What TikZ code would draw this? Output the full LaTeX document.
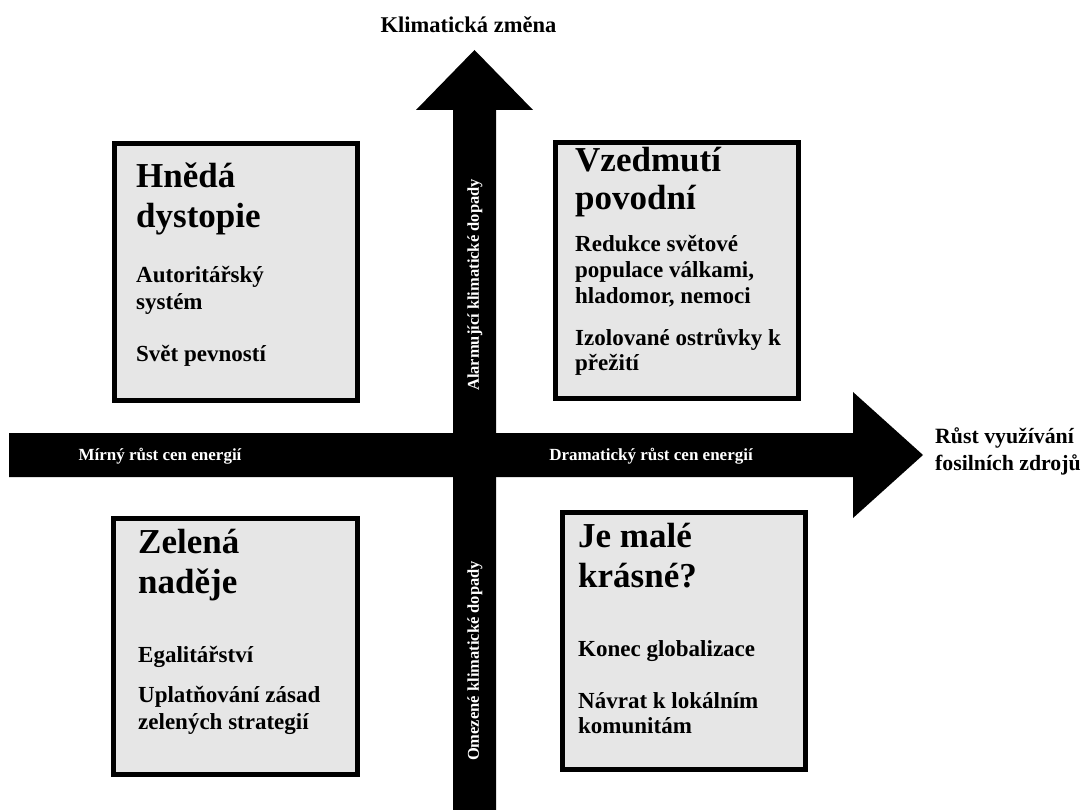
\documentclass[tikz,border=0pt]{standalone}
\usepackage{fontspec}
\setmainfont{Liberation Serif}
\definecolor{boxfill}{RGB}{230,230,230}
\begin{document}
\begin{tikzpicture}[x=1pt,y=-1pt,
  qbox/.style={draw=black,fill=boxfill,line width=5pt,inner sep=0pt,anchor=north west},
  ttl/.style={anchor=base west,inner sep=0pt,font=\fontsize{35}{40}\selectfont\bfseries},
  body/.style={anchor=base west,inner sep=0pt,font=\fontsize{23}{27}\selectfont\bfseries},
  hlab/.style={anchor=base,inner sep=0pt,text=white,font=\fontsize{17}{20}\selectfont\bfseries},
  vlab/.style={rotate=90,inner sep=0pt,text=white,font=\fontsize{16.5}{20}\selectfont\bfseries},
  axlab/.style={inner sep=0pt,font=\fontsize{22.5}{27}\selectfont\bfseries}]
\useasboundingbox (0,0) rectangle (1085,810);
\fill[white] (0,0) rectangle (1085,810);
% vertical arrow
\fill[black] (453,810) -- (453,110) -- (416,110) -- (474.5,50) -- (533,110) -- (496,110) -- (496,810) -- cycle;
% horizontal arrow
\fill[black] (9,433) -- (853,433) -- (853,392) -- (923,455) -- (853,518) -- (853,477) -- (9,477) -- cycle;
\coordinate (vtip) at (474.5,50);
\coordinate (htip) at (923,455);
% titles on axes
\node[axlab,anchor=base] (ytitle) at (468.5,33) {Klimatická změna};
\node[axlab,anchor=base west,font=\fontsize{21.8}{27}\selectfont\bfseries] (xt1) at (935,443) {Růst využívání};
\node[axlab,anchor=base west,font=\fontsize{21.8}{27}\selectfont\bfseries] (xt2) at (935,470) {fosilních zdrojů};
% arrow labels
\node[hlab] (hl) at (160,460) {Mírný růst cen energií};
\node[hlab] (hr) at (651,460) {Dramatický růst cen energií};
\node[vlab] (vu) at (475,285) {Alarmující klimatické dopady};
\node[vlab] (vd) at (475,661) {Omezené klimatické dopady};
% boxes
\node[qbox,minimum width=243pt,minimum height=257pt] (tl) at (111.5,141.5) {};
\node[qbox,minimum width=243pt,minimum height=256pt] (tr) at (552.5,140.5) {};
\node[qbox,minimum width=244pt,minimum height=256pt] (bl) at (110.5,515.5) {};
\node[qbox,minimum width=243pt,minimum height=257pt] (br) at (559.5,509.5) {};
% top-left text
\node[ttl] (tl1) at (136,188) {Hnědá};
\node[ttl] (tl2) at (136,228) {dystopie};
\node[body] (tl3) at (136,283) {Autoritářský};
\node[body] (tl4) at (136,310) {systém};
\node[body] (tl5) at (136,362) {Svět pevností};
% top-right text
\node[ttl] (tr1) at (575,172) {Vzedmutí};
\node[ttl] (tr2) at (575,210) {povodní};
\node[body] (tr3) at (575,252) {Redukce světové};
\node[body] (tr4) at (575,278) {populace válkami,};
\node[body] (tr5) at (575,304) {hladomor, nemoci};
\node[body] (tr6) at (575,346) {Izolované ostrůvky k};
\node[body] (tr7) at (575,371) {přežití};
% bottom-left text
\node[ttl] (bl1) at (138,553) {Zelená};
\node[ttl] (bl2) at (138,593) {naděje};
\node[body] (bl3) at (138,662) {Egalitářství};
\node[body] (bl4) at (138,702) {Uplatňování zásad};
\node[body] (bl5) at (138,729) {zelených strategií};
% bottom-right text
\node[ttl] (br1) at (578,547) {Je malé};
\node[ttl] (br2) at (578,587) {krásné?};
\node[body] (br3) at (578,656) {Konec globalizace};
\node[body] (br4) at (578,708) {Návrat k lokálním};
\node[body] (br5) at (578,733) {komunitám};
\end{tikzpicture}
\end{document}
